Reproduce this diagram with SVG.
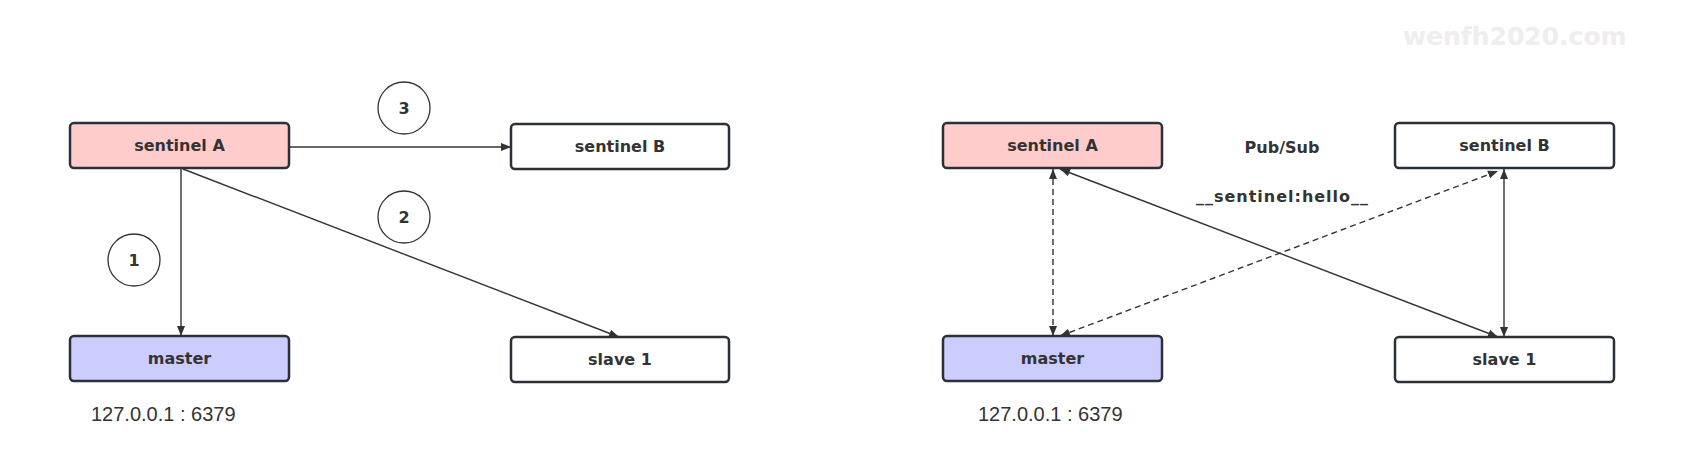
<svg xmlns="http://www.w3.org/2000/svg" width="1686" height="451" viewBox="0 0 1686 451">
<style>
.box{stroke:#2b3036;stroke-width:2.5}
.lbl{font-family:"Comic Sans MS","DejaVu Sans",sans-serif;font-weight:bold;font-size:16px;fill:#333;text-anchor:middle;dominant-baseline:central}
.ln{stroke:#333;stroke-width:1.4;fill:none}
.dash{stroke-dasharray:6 4}
.circ{fill:#fff;stroke:#333;stroke-width:1.3}
.ip{font-family:"Liberation Sans",sans-serif;font-size:20px;fill:#333;dominant-baseline:central}
</style>
<defs>
<marker id="ah" viewBox="0 0 10 10" refX="10" refY="5" markerWidth="10" markerHeight="10" markerUnits="userSpaceOnUse" orient="auto-start-reverse">
<path d="M0,1 L10,5 L0,9 Z" fill="#333"/>
</marker>
</defs>
<rect width="1686" height="451" fill="#fff"/>
<text x="1403" y="36" font-family="'Comic Sans MS','DejaVu Sans',sans-serif" font-weight="bold" font-size="25" fill="#efeded" dominant-baseline="central">wenfh2020.com</text>

<g id="connectors">
<line class="ln" x1="289" y1="147" x2="511" y2="147" marker-end="url(#ah)"/>
<line class="ln" x1="181" y1="169" x2="181" y2="336" marker-end="url(#ah)"/>
<line class="ln" x1="183" y1="169" x2="619" y2="337" marker-end="url(#ah)"/>
<line class="ln dash" x1="1053" y1="169" x2="1053" y2="336" marker-start="url(#ah)" marker-end="url(#ah)"/>
<line class="ln" x1="1504" y1="169" x2="1504" y2="337" marker-start="url(#ah)" marker-end="url(#ah)"/>
<line class="ln" x1="1060" y1="169" x2="1498" y2="337" marker-start="url(#ah)" marker-end="url(#ah)"/>
<line class="ln dash" x1="1060" y1="336" x2="1498" y2="171" marker-start="url(#ah)" marker-end="url(#ah)"/>
</g>

<g id="c1"><circle class="circ" cx="134" cy="260" r="26"/><text class="lbl" x="134" y="260">1</text></g>
<g id="c2"><circle class="circ" cx="404" cy="217" r="26"/><text class="lbl" x="404" y="217">2</text></g>
<g id="c3"><circle class="circ" cx="404" cy="108" r="26"/><text class="lbl" x="404" y="108">3</text></g>

<g id="L_sentinelA"><rect class="box" x="70" y="123" width="219" height="45" rx="4" fill="#ffcccc"/><text class="lbl" x="179.5" y="145.5">sentinel A</text></g>
<g id="L_sentinelB"><rect class="box" x="511" y="124" width="218" height="45" rx="4" fill="#fff"/><text class="lbl" x="620" y="146.5">sentinel B</text></g>
<g id="L_master"><rect class="box" x="70" y="336" width="219" height="45" rx="4" fill="#ccccff"/><text class="lbl" x="179.5" y="358.5">master</text></g>
<g id="L_slave1"><rect class="box" x="511" y="337" width="218" height="45" rx="4" fill="#fff"/><text class="lbl" x="620" y="359.5">slave 1</text></g>
<g id="L_ip"><text class="ip" x="91" y="414">127.0.0.1 : 6379</text></g>

<g id="R_sentinelA"><rect class="box" x="943" y="123" width="219" height="45" rx="4" fill="#ffcccc"/><text class="lbl" x="1052.5" y="145.5">sentinel A</text></g>
<g id="R_sentinelB"><rect class="box" x="1395" y="123" width="219" height="45" rx="4" fill="#fff"/><text class="lbl" x="1504.5" y="145.5">sentinel B</text></g>
<g id="R_master"><rect class="box" x="943" y="336" width="219" height="45" rx="4" fill="#ccccff"/><text class="lbl" x="1052.5" y="358.5">master</text></g>
<g id="R_slave1"><rect class="box" x="1395" y="337" width="219" height="45" rx="4" fill="#fff"/><text class="lbl" x="1504.5" y="359.5">slave 1</text></g>
<g id="R_ip"><text class="ip" x="978" y="414">127.0.0.1 : 6379</text></g>
<g id="pubsub"><text class="lbl" x="1282" y="147">Pub/Sub</text><text class="lbl" x="1282" y="196" textLength="172" lengthAdjust="spacing">__sentinel:hello__</text></g>
</svg>
